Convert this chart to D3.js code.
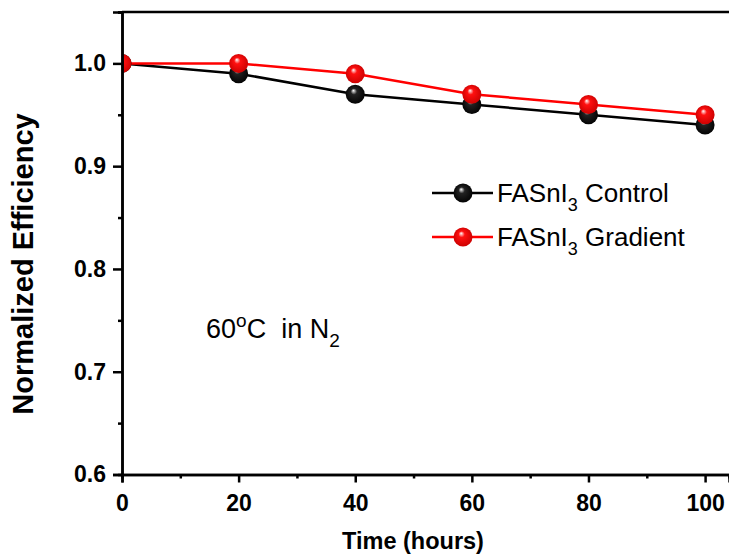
<!DOCTYPE html>
<html>
<head>
<meta charset="utf-8">
<script src="https://cdn.jsdelivr.net/npm/d3@7"></script>
<style>
  html, body { margin: 0; padding: 0; background: #fff; }
  svg { display: block; font-family: "Liberation Sans", Arial, sans-serif; }
</style>
</head>
<body>
<svg id="chart" width="729" height="556"></svg>
<script>
// Stability of FASnI3 devices at 60 °C in N2
const hours = [0, 20, 40, 60, 80, 100];
const controlEff = [1.00, 0.99, 0.97, 0.96, 0.95, 0.94];
const gradientEff = [1.00, 1.00, 0.99, 0.97, 0.96, 0.95];
const xTicks = [0, 20, 40, 60, 80, 100];
const yTicks = [0.6, 0.7, 0.8, 0.9, 1.0];
const seriesNames = ["Control", "Gradient"];

(function () {
const svg = d3.select("#chart");
const plotLeft = 122, plotRight = 729, plotTop = 12, plotBottom = 474.5;

const x = d3.scaleLinear().domain([0, 104.1]).range([plotLeft, plotRight]);
const y = d3.scaleLinear().domain([0.6, 1.05]).range([plotBottom, plotTop]);

// sphere shading for markers
const defs = svg.append("defs");
function sphere(id, base, dark) {
  const g = defs.append("radialGradient").attr("id", id)
    .attr("cx", "50%").attr("cy", "50%").attr("r", "55%")
    .attr("fx", "40%").attr("fy", "30%");
  g.append("stop").attr("offset", "0%").attr("stop-color", "#ffffff");
  g.append("stop").attr("offset", "30%").attr("stop-color", base);
  g.append("stop").attr("offset", "100%").attr("stop-color", dark);
}
sphere("ballBlack", "#222", "#000");
sphere("ballRed", "#ff1010", "#c80000");

defs.append("clipPath").attr("id", "plotClip").append("rect")
  .attr("x", plotLeft).attr("y", plotTop).attr("width", plotRight - plotLeft).attr("height", plotBottom - plotTop);

// series
const series = [
  { name: seriesNames[0], vals: controlEff, color: "#000", fill: "url(#ballBlack)" },
  { name: seriesNames[1], vals: gradientEff, color: "#ff0000", fill: "url(#ballRed)" }
];
const line = d3.line().x((d, i) => x(hours[i])).y(d => y(d));
const plot = svg.append("g").attr("clip-path", "url(#plotClip)");
series.forEach(s => {
  plot.append("path").datum(s.vals).attr("d", line)
    .attr("fill", "none").attr("stroke", s.color).attr("stroke-width", 2.5);
});
series.forEach(s => {
  plot.selectAll(null).data(s.vals).enter().append("circle")
    .attr("cx", (d, i) => x(hours[i])).attr("cy", d => y(d)).attr("r", 9.5)
    .attr("fill", s.fill);
});

// frame: top line
svg.append("line").attr("x1", plotLeft).attr("x2", plotRight).attr("y1", plotTop).attr("y2", plotTop)
  .attr("stroke", "#000").attr("stroke-width", 2.5);

// axes
const xAxis = d3.axisBottom(x).tickValues(xTicks).tickSize(8).tickPadding(12).tickFormat(d3.format("d"));
const xMinor = d3.axisBottom(x).tickValues(d3.range(10, 101, 20)).tickSize(4).tickFormat("");
const yAxis = d3.axisLeft(y).tickValues(yTicks).tickSize(9).tickPadding(7).tickFormat(d3.format(".1f"));
const yMinor = d3.axisLeft(y).tickValues([0.65, 0.75, 0.85, 0.95, 1.05]).tickSize(4).tickFormat("");

function styleAxis(g) {
  g.select(".domain").attr("stroke", "#000").attr("stroke-width", 2.5);
  g.selectAll(".tick line").attr("stroke", "#000").attr("stroke-width", 2.5);
  g.selectAll(".tick text").attr("fill", "#000").style("font-size", "23px").style("font-weight", "bold")
    .style("font-family", "'Liberation Sans', Arial, sans-serif");
}
svg.append("g").attr("transform", `translate(0,${plotBottom})`).call(xMinor).call(styleAxis);
svg.append("g").attr("transform", `translate(0,${plotBottom})`).call(xAxis).call(styleAxis);
svg.append("g").attr("transform", `translate(${plotLeft},0)`).call(yMinor).call(styleAxis);
svg.append("g").attr("transform", `translate(${plotLeft},0)`).call(yAxis).call(styleAxis);

// axis titles
svg.append("text").attr("x", 413).attr("y", 549).attr("text-anchor", "middle")
  .style("font-size", "23.5px").style("font-weight", "bold").text("Time (hours)");
svg.append("text").attr("transform", "translate(33,264) rotate(-90)").attr("text-anchor", "middle")
  .style("font-size", "29px").style("font-weight", "bold").text("Normalized Efficiency");

// legend
const legend = svg.append("g");
series.forEach((s, i) => {
  const ly = 193 + i * 44;
  legend.append("line").attr("x1", 432).attr("x2", 493).attr("y1", ly).attr("y2", ly)
    .attr("stroke", s.color).attr("stroke-width", 2.5);
  legend.append("circle").attr("cx", 463).attr("cy", ly).attr("r", 9.5).attr("fill", s.fill);
  const t = legend.append("text").attr("x", 497).attr("y", ly + 9).style("font-size", "26px");
  t.append("tspan").text("FASnI");
  t.append("tspan").attr("dy", 9).style("font-size", "18px").text("3");
  t.append("tspan").attr("dy", -9).text(" " + s.name);
});

// condition note
const note = svg.append("text").attr("x", 206).attr("y", 338).style("font-size", "27px")
  .style("white-space", "pre");
note.append("tspan").text("60");
note.append("tspan").attr("dy", -11).style("font-size", "19px").text("o");
note.append("tspan").attr("dy", 11).text("C  in N");
note.append("tspan").attr("dy", 9).style("font-size", "19px").text("2");
})();
</script>
</body>
</html>
